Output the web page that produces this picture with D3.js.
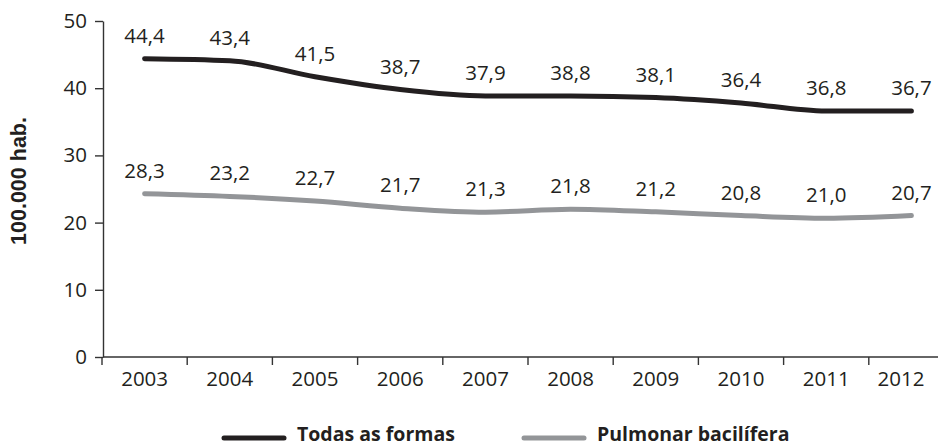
<!DOCTYPE html>
<html>
<head>
<meta charset="utf-8">
<script src="https://cdn.jsdelivr.net/npm/d3@7"></script>
<style>
  body { margin: 0; background: #fff; }
  text { font-family: "Open Sans", sans-serif; fill: #231f20; }
</style>
</head>
<body>
<div id="chart"></div>
<script>
// data
var years = ["2003", "2004", "2005", "2006", "2007", "2008", "2009", "2010", "2011", "2012"];
var todasValues = [44.4, 44.1, 41.7, 39.8, 38.85, 38.85, 38.6, 37.8, 36.6, 36.6];
var todasLabels = ["44,4", "43,4", "41,5", "38,7", "37,9", "38,8", "38,1", "36,4", "36,8", "36,7"];
var pulmonarValues = [24.3, 23.9, 23.2, 22.15, 21.55, 22.0, 21.6, 21.05, 20.65, 21.05];
var pulmonarLabels = ["28,3", "23,2", "22,7", "21,7", "21,3", "21,8", "21,2", "20,8", "21,0", "20,7"];
var yTicks = [0, 10, 20, 30, 40, 50];

var series = [
  { name: "Todas as formas", values: todasValues, labels: todasLabels, color: "#231f20" },
  { name: "Pulmonar bacilífera", values: pulmonarValues, labels: pulmonarLabels, color: "#939598" }
];

var width = 938, height = 446;

var svg = d3.select("#chart").append("svg")
  .attr("width", width)
  .attr("height", height);

var x = d3.scaleBand().domain(years).range([102, 954]);
var y = d3.scaleLinear().domain([0, 50]).range([357, 21]);

// y axis
var yAxis = svg.append("g")
  .attr("transform", "translate(103,0)")
  .call(d3.axisLeft(y).tickValues(yTicks).tickSize(8).tickPadding(8).tickSizeOuter(0));
yAxis.selectAll("text").style("font-size", "20.5px").attr("font-family", null);
yAxis.selectAll("line, path").attr("stroke", "#333").attr("stroke-width", 1.4);

// x axis: labels centred in bands, ticks on the band edges
var xAxis = svg.append("g")
  .attr("transform", "translate(0,357)")
  .call(d3.axisBottom(x).tickSize(0).tickPadding(14).tickSizeOuter(0));
xAxis.select("path").remove();
xAxis.selectAll("text").style("font-size", "20.5px").attr("font-family", null)
  .attr("x", function(d) {
    var c = x(d) + x.bandwidth() / 2;
    return Math.min(c, width - 37) - c;
  });
svg.append("line")
  .attr("x1", 103).attr("x2", width)
  .attr("y1", 357).attr("y2", 357)
  .attr("stroke", "#333").attr("stroke-width", 1.4);
svg.selectAll(".xtick").data(years).enter().append("line")
  .attr("class", "xtick")
  .attr("x1", function(d) { return x(d); })
  .attr("x2", function(d) { return x(d); })
  .attr("y1", 357).attr("y2", 365)
  .attr("stroke", "#333").attr("stroke-width", 1.4);

// y axis title
svg.append("text")
  .attr("transform", "translate(26,181) rotate(-90)")
  .attr("text-anchor", "middle")
  .style("font-family", "'Liberation Sans', Arial, sans-serif")
  .style("font-weight", "bold")
  .style("font-size", "21.5px")
  .text("100.000 hab.");

// lines
var line = d3.line()
  .x(function(d, i) { return x(years[i]) + x.bandwidth() / 2; })
  .y(function(d) { return y(d); })
  .curve(d3.curveMonotoneX);

series.forEach(function(s) {
  svg.append("path")
    .datum(s.values)
    .attr("fill", "none")
    .attr("stroke", s.color)
    .attr("stroke-width", 5)
    .attr("stroke-linecap", "round")
    .attr("stroke-linejoin", "round")
    .attr("d", line);

  svg.selectAll(null)
    .data(s.values)
    .enter().append("text")
    .attr("x", function(d, i) { return x(years[i]) + x.bandwidth() / 2; })
    .attr("y", function(d) { return y(d) - 16; })
    .attr("text-anchor", "middle")
    .style("font-size", "20.5px")
    .text(function(d, i) { return s.labels[i]; });
});

// legend
var legend = svg.selectAll(".legend").data(series).enter().append("g")
  .attr("class", "legend")
  .attr("transform", function(d, i) { return "translate(" + (224 + 300 * i) + ",438)"; });
legend.append("line")
  .attr("x1", 0).attr("x2", 60)
  .attr("stroke", function(d) { return d.color; })
  .attr("stroke-width", 5)
  .attr("stroke-linecap", "round");
legend.append("text")
  .attr("x", 73).attr("y", 3)
  .style("font-size", "19.5px")
  .style("font-weight", "bold")
  .text(function(d) { return d.name; });
</script>
</body>
</html>
